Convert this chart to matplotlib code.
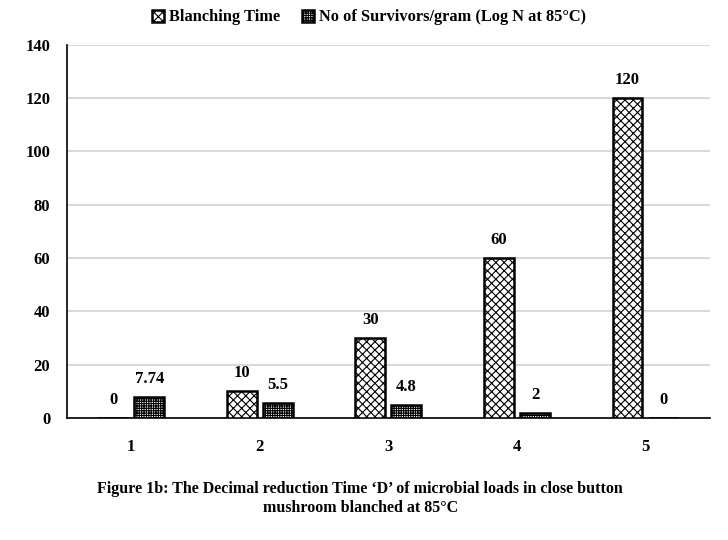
import matplotlib
matplotlib.use("Agg")
import matplotlib.pyplot as plt
import numpy as np

categories = ["1", "2", "3", "4", "5"]
blanching_time = [0, 10, 30, 60, 120]
survivors = [7.74, 5.5, 4.8, 2, 0]
survivor_labels = ["7.74", "5.5", "4.8", "2", "0"]
yticks = [0, 20, 40, 60, 80, 100, 120, 140]

plt.rcParams['font.family'] = ['Liberation Serif', 'DejaVu Serif']
plt.rcParams['font.weight'] = 'bold'
plt.rcParams['hatch.linewidth'] = 0.8

fig = plt.figure(figsize=(7.28, 5.4), dpi=100)
ax = fig.add_axes([0.092, 0.226, 0.883, 0.691])

x = np.arange(len(categories))
w = 0.233
off = 0.14
b1 = ax.bar(x - off, blanching_time, w, facecolor='white', edgecolor='black',
            hatch='xxxx', linewidth=1.8, label='Blanching Time', zorder=3)
b2 = ax.bar(x + off, survivors, w, facecolor='white', edgecolor='black',
            hatch='+++++++', linewidth=1.8,
            label='No of Survivors/gram (Log N at 85°C)', zorder=3)

for xi, v in zip(x, blanching_time):
    ax.annotate(str(v), (xi - off, v), xytext=(0, 13), textcoords='offset points',
                ha='center', va='center', fontsize=12, fontweight='bold')
for xi, v, s in zip(x, survivors, survivor_labels):
    ax.annotate(s, (xi + off, v), xytext=(0, 13), textcoords='offset points',
                ha='center', va='center', fontsize=12, fontweight='bold')

ax.set_xlim(-0.5, len(categories) - 0.5)
ax.set_ylim(0, 140)
ax.set_yticks(yticks)
ax.set_xticks(x)
ax.set_xticklabels(categories)
ax.tick_params(axis='both', length=0, labelsize=12)
ax.tick_params(axis='x', pad=15)
ax.tick_params(axis='y', pad=12)
ax.grid(axis='y', color='#d9d9d9', linewidth=1.5, zorder=0)
ax.set_axisbelow(True)
for s in ['top', 'right']:
    ax.spines[s].set_visible(False)
ax.spines['left'].set_linewidth(1.2)
ax.spines['bottom'].set_linewidth(1.2)

fig.legend(handles=[b1, b2], loc='upper center', bbox_to_anchor=(0.507, 1.01),
           ncol=2, frameon=False, fontsize=11.8, handlelength=0.75, handleheight=0.75,
           columnspacing=1.3, handletextpad=0.3)

fig.text(0.495, 0.077, "Figure 1b: The Decimal reduction Time \u2018D\u2019 of microbial loads in close button\nmushroom blanched at 85°C",
         ha='center', va='center', fontsize=11.5, fontweight='bold', linespacing=1.3)

fig.savefig("out.png", dpi=100)
